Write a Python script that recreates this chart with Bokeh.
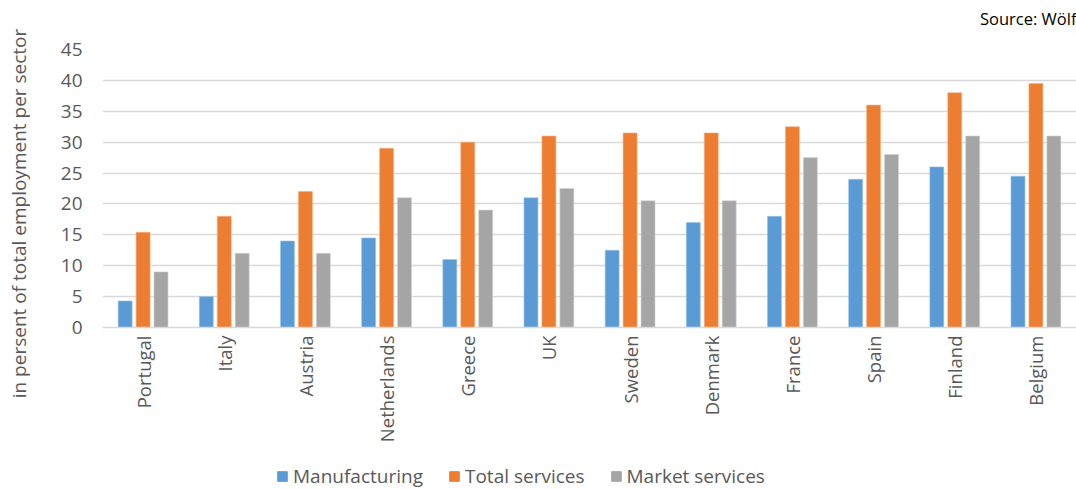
import math
from bokeh.plotting import figure
from bokeh.layouts import column, row
from bokeh.models import (ColumnDataSource, FactorRange, Legend, LegendItem, Label, Range1d)
from bokeh.transform import dodge
from bokeh.embed import file_html
from bokeh.resources import INLINE

countries = ["Portugal", "Italy", "Austria", "Netherlands", "Greece", "UK",
             "Sweden", "Denmark", "France", "Spain", "Finland", "Belgium"]
manufacturing = [4.3, 5, 14, 14.5, 11, 21, 12.5, 17, 18, 24, 26, 24.5]
total_services = [15.4, 18, 22, 29, 30, 31, 31.5, 31.5, 32.5, 36, 38, 39.5]
market_services = [9, 12, 12, 21, 19, 22.5, 20.5, 20.5, 27.5, 28, 31, 31]
series_names = ["Manufacturing", "Total services", "Market services"]
colors = ["#5b9bd5", "#ed7d31", "#a5a5a5"]
edge_colors = ["#9cc3e6", "#f4b183", "#d0d0d0"]
y_ticks = [0, 5, 10, 15, 20, 25, 30, 35, 40, 45]
y_title = "in persent of total employment per sector"
source_text = "Source: Wölf"

FONT = "Open Sans"
TXT = "#595959"

src = ColumnDataSource(dict(country=countries, manu=manufacturing,
                            tot=total_services, mkt=market_services))
cols = ["manu", "tot", "mkt"]
w = 0.172
off = 0.221


def strip(width, height, left=0):
    f = figure(width=width, height=height, x_range=Range1d(0, 1), y_range=Range1d(0, 1),
               output_backend="svg", toolbar_location=None, min_border_left=left,
               min_border_right=0, min_border_top=0, min_border_bottom=0,
               x_axis_type=None, y_axis_type=None)
    f.outline_line_color = None
    f.xgrid.grid_line_color = None
    f.ygrid.grid_line_color = None
    return f


# left strip (full height) with the y-axis title
ystrip = strip(30, 489)
ystrip.add_layout(Label(x=18, y=276, x_units="screen", y_units="screen", text=y_title,
                        angle=math.pi / 2, text_align="center", text_baseline="middle",
                        text_font=FONT, text_font_size="19px", text_color=TXT))

# top strip with the source note
top = strip(1046, 36, left=72)
top.add_layout(Label(x=974, y=18, x_units="screen", y_units="screen", text=source_text,
                     text_align="right", text_baseline="middle", text_font=FONT,
                     text_font_size="16.5px", text_color="#000000"))

# main chart
p = figure(width=1046, height=419, x_range=FactorRange(*countries, range_padding=0),
           y_range=Range1d(0, 45), output_backend="svg", toolbar_location=None,
           min_border_left=72, min_border_right=0, min_border_top=13,
           min_border_bottom=128)
p.outline_line_color = None

for i, c in enumerate(cols):
    p.vbar(x=dodge("country", (i - 1) * off, range=p.x_range), top=c, width=w,
           source=src, fill_color=colors[i], line_color=edge_colors[i], line_width=0.6)

p.xgrid.grid_line_color = None
p.ygrid.grid_line_color = "#d9d9d9"
p.ygrid.grid_line_width = 1.3
p.yaxis.ticker = y_ticks
p.yaxis.axis_line_color = None
p.yaxis.major_tick_line_color = None
p.yaxis.minor_tick_line_color = None
p.yaxis.major_tick_out = 0
p.yaxis.major_label_standoff = 20
p.yaxis.major_label_text_font = FONT
p.yaxis.major_label_text_font_size = "19px"
p.yaxis.major_label_text_color = TXT

p.xaxis.axis_line_color = "#d9d9d9"
p.xaxis.axis_line_width = 1.3
p.xaxis.major_tick_line_color = None
p.xaxis.minor_tick_line_color = None
p.xaxis.major_tick_out = 0
p.xaxis.major_label_orientation = math.pi / 2
p.xaxis.major_label_standoff = 8
p.xaxis.major_label_text_font = FONT
p.xaxis.major_label_text_font_size = "18.5px"
p.xaxis.major_label_text_color = TXT

# legend strip below the chart (bars drawn far outside its visible y range)
lg = figure(width=1046, height=34, x_range=FactorRange(*countries, range_padding=0),
            y_range=Range1d(1000, 1001), output_backend="svg", toolbar_location=None,
            min_border_left=72, min_border_right=0, min_border_top=0,
            min_border_bottom=0, x_axis_type=None, y_axis_type=None)
lg.outline_line_color = None
lg.xgrid.grid_line_color = None
lg.ygrid.grid_line_color = None
items = []
for i, name in enumerate(series_names):
    r = lg.vbar(x=dodge("country", (i - 1) * off, range=lg.x_range), top=cols[i],
                width=w, source=src, fill_color=colors[i], line_color=colors[i])
    items.append(LegendItem(label=name, renderers=[r]))
legend = Legend(items=items, orientation="horizontal", location=(174, 0),
                label_text_font=FONT, label_text_font_size="19px",
                label_text_color=TXT, glyph_width=12, glyph_height=12,
                label_standoff=5, spacing=25, padding=0, margin=0,
                border_line_color=None, background_fill_alpha=0)
lg.add_layout(legend, "center")

layout = row(ystrip, column(top, p, lg, spacing=0), spacing=0)
open("out.html", "w").write(file_html(layout, INLINE))
